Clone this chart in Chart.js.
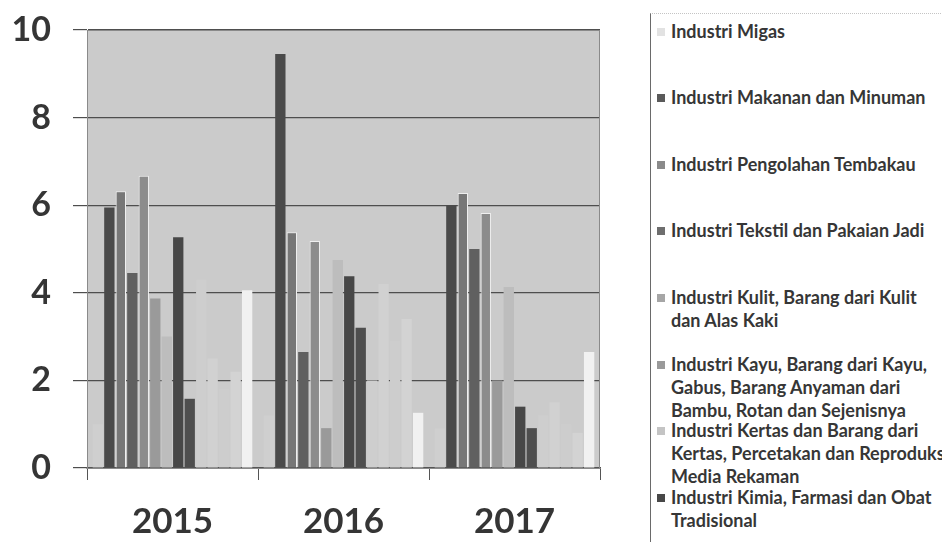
<!DOCTYPE html>
<html>
<head>
<meta charset="utf-8">
<script src="https://cdn.jsdelivr.net/npm/chart.js@4.4.1/dist/chart.umd.min.js"></script>
<style>
  html, body { margin: 0; padding: 0; background: #fff; width: 942px; height: 543px; overflow: hidden; }
  #wrap { position: absolute; left: 0; top: 0; width: 606px; height: 543px; }
  #legend {
    position: absolute; left: 650px; top: 13px; width: 292px; height: 528px;
    border-left: 1px solid #6a6a6a; border-top: 1px dotted #c4c4c4;
    font-family: Lato, sans-serif; font-weight: 700; font-size: 18px; color: #363636;
  }
  .item { position: absolute; left: 6px; white-space: nowrap; line-height: 23px; }
  .sw { position: absolute; left: 0; top: 8px; width: 8px; height: 8px; }
  .txt { position: absolute; left: 14px; top: 0; }
</style>
</head>
<body>
<div id="wrap"><canvas id="c" width="606" height="543"></canvas></div>
<div id="legend"></div>
<script>
// Years on the category axis
const years = ['2015', '2016', '2017'];

// Growth per industry group (%), one array per series
const migas        = [1.0, 1.2, 0.9];
const makanan      = [5.95, 9.45, 6.0];
const tembakau     = [6.32, 5.38, 6.28];
const tekstil      = [4.45, 2.65, 5.0];
const kulit        = [6.67, 5.18, 5.82];
const kayu         = [3.87, 0.91, 2.0];
const kertas       = [3.0, 4.75, 4.13];
const kimia        = [5.27, 4.38, 1.4];
const karet        = [1.58, 3.2, 0.91];
const galian       = [4.3, 2.0, 1.2];
const logamDasar   = [2.5, 4.2, 1.5];
const barangLogam  = [1.8, 2.9, 1.0];
const angkutan     = [2.2, 3.4, 0.8];
const furnitur     = [4.06, 1.26, 2.65];

// Series names; "\n" marks where the legend text wraps
const seriesNames = [
  'Industri Migas',
  'Industri Makanan dan Minuman',
  'Industri Pengolahan Tembakau',
  'Industri Tekstil dan Pakaian Jadi',
  'Industri Kulit, Barang dari Kulit\ndan Alas Kaki',
  'Industri Kayu, Barang dari Kayu,\nGabus, Barang Anyaman dari\nBambu, Rotan dan Sejenisnya',
  'Industri Kertas dan Barang dari\nKertas, Percetakan dan Reproduksi\nMedia Rekaman',
  'Industri Kimia, Farmasi dan Obat\nTradisional',
  'Industri Karet, Barang dari Karet dan Plastik',
  'Industri Barang Galian bukan Logam',
  'Industri Logam Dasar',
  'Industri Barang Logam',
  'Industri Alat Angkutan',
  'Industri Furnitur'
];
const seriesValues = [migas, makanan, tembakau, tekstil, kulit, kayu, kertas, kimia,
                      karet, galian, logamDasar, barangLogam, angkutan, furnitur];
const barColors = ['#cfcfcf', '#4a4a4a', '#777777', '#606060', '#8c8c8c', '#9a9a9a', '#bdbdbd',
                   '#474747', '#4e4e4e', '#cecece', '#d1d1d1', '#cdcdcd', '#d3d3d3', '#f1f1f1'];
const swatchColors = ['#e2e2e2', '#5a5a5a', '#8a8a8a', '#6e6e6e', '#a6a6a6', '#9a9a9a', '#c4c4c4', '#484848'];
const legendCount = 8;

const datasets = seriesValues.map((vals, i) => ({
  label: seriesNames[i].replace(/\n/g, ' '),
  data: vals,
  backgroundColor: barColors[i],
  borderColor: (i === 2 || i === 4) ? '#efefef' : barColors[i],
  borderWidth: (i === 2 || i === 4) ? 1 : 0,
  categoryPercentage: 0.94,
  barPercentage: 0.9
}));

// Plot area fill and frame
const plotFrame = {
  id: 'plotFrame',
  beforeDraw(chart) {
    const { ctx, chartArea: a } = chart;
    ctx.save();
    ctx.fillStyle = '#cbcbcb';
    ctx.fillRect(a.left, a.top, a.right - a.left, a.bottom - a.top);
    ctx.restore();
  },
  afterDraw(chart) {
    const { ctx, chartArea: a } = chart;
    ctx.save();
    ctx.strokeStyle = '#8a8a8a';
    ctx.lineWidth = 1;
    ctx.strokeRect(a.left + 0.5, a.top + 0.5, a.right - a.left - 1, a.bottom - a.top);
    ctx.restore();
  }
};

new Chart(document.getElementById('c'), {
  type: 'bar',
  data: { labels: years, datasets },
  plugins: [plotFrame],
  options: {
    responsive: false,
    animation: false,
    layout: { padding: { top: 30, right: 6, left: 0, bottom: 0 } },
    plugins: { legend: { display: false }, tooltip: { enabled: false } },
    scales: {
      x: {
        grid: { offset: true, drawOnChartArea: false, drawTicks: true, tickLength: 12, color: '#555', lineWidth: 1 },
        border: { color: '#555', width: 1.5 },
        ticks: { font: { family: 'Lato', weight: 'bold', size: 35 }, color: '#353535', padding: 21 },
        afterFit(axis) { axis.height = 75; axis.paddingLeft = 0; axis.paddingRight = 0; }
      },
      y: {
        min: 0, max: 10,
        ticks: { stepSize: 2, font: { family: 'Lato', weight: 'bold', size: 34 }, color: '#353535', padding: 22 },
        grid: { color: '#4e4e4e', lineWidth: 1.2, tickLength: 14 },
        border: { color: '#8a8a8a', width: 1 },
        afterFit(axis) { axis.width = 87; axis.paddingTop = 0; axis.paddingBottom = 0; }
      }
    }
  }
});

// Legend panel on the right: entries spread evenly down the box
const legend = document.getElementById('legend');
for (let i = 0; i < legendCount; i++) {
  const item = document.createElement('div');
  item.className = 'item';
  item.style.top = (30 + i * 66.6 - 13 - 11.5) + 'px';
  const sw = document.createElement('span');
  sw.className = 'sw';
  sw.style.background = swatchColors[i];
  const txt = document.createElement('span');
  txt.className = 'txt';
  seriesNames[i].split('\n').forEach((line, k) => {
    if (k) txt.appendChild(document.createElement('br'));
    txt.appendChild(document.createTextNode(line));
  });
  item.appendChild(sw);
  item.appendChild(txt);
  legend.appendChild(item);
}
</script>
</body>
</html>
